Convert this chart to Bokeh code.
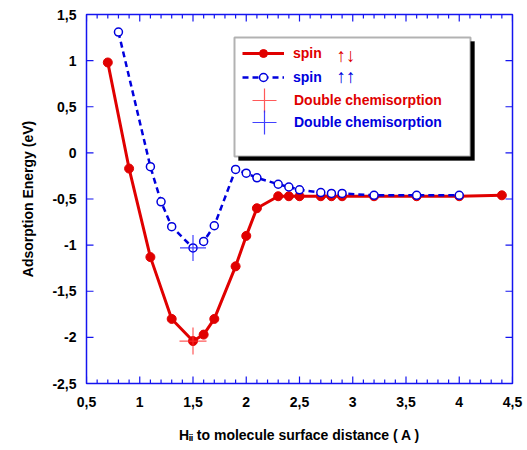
import math
from bokeh.plotting import figure
from bokeh.models import (CustomJSTickFormatter, FixedTicker, Legend,
                          LegendItem, Label, Range1d, BoxAnnotation)
from bokeh.embed import file_html
from bokeh.resources import INLINE

# ---------------- data ----------------
red_x = [0.7, 0.9, 1.1, 1.3, 1.5, 1.6, 1.7, 1.9, 2.0, 2.1, 2.3, 2.4, 2.5, 2.7, 2.8, 2.9, 3.2, 3.6, 4.0, 4.4]
red_y = [0.98, -0.17, -1.13, -1.80, -2.04, -1.97, -1.80, -1.23, -0.90, -0.60, -0.47, -0.47, -0.47,
         -0.47, -0.47, -0.47, -0.47, -0.47, -0.47, -0.46]
blue_x = [0.8, 1.1, 1.2, 1.3, 1.5, 1.6, 1.7, 1.9, 2.0, 2.1, 2.3, 2.4, 2.5, 2.7, 2.8, 2.9, 3.2, 3.6, 4.0]
blue_y = [1.31, -0.15, -0.53, -0.80, -1.03, -0.96, -0.79, -0.18, -0.22, -0.27, -0.34, -0.37, -0.40,
          -0.43, -0.44, -0.44, -0.46, -0.46, -0.46]
cross_x = [1.5]
red_cross_y = [-2.04]
blue_cross_y = [-1.03]

x_lo, x_hi = 0.5, 4.5
y_lo, y_hi = -2.5, 1.5
x_ticks = [0.5, 1.0, 1.5, 2.0, 2.5, 3.0, 3.5, 4.0, 4.5]
x_minor = [round(0.5 + 0.1 * i, 1) for i in range(41)]
y_ticks = [-2.5, -2.0, -1.5, -1.0, -0.5, 0.0, 0.5, 1.0, 1.5]

labels = ["spin", "spin", "Double chemisorption", "Double chemisorption"]
spin_arrows = ["↑↓", "↑↑"]
x_title = "Hᵢᵢ to molecule surface distance ( A )"
y_title = "Adsorption Energy (eV)"

# ---------------- style ----------------
RED = "#e00000"
BLUE = "#0000dd"
AX = "#1414f0"
FONT = "Liberation Sans"

W, H = 527, 450
FL, FR, FT, FB = 86, 512, 14, 383   # frame edges in px

p = figure(width=W, height=H, output_backend="svg", toolbar_location=None,
           x_range=Range1d(x_lo, x_hi), y_range=Range1d(y_lo, y_hi),
           min_border_left=FL, min_border_right=W - FR,
           min_border_top=FT, min_border_bottom=H - FB)
p.outline_line_color = AX
p.outline_line_width = 1.5
p.xgrid.visible = False
p.ygrid.visible = False

fmt = CustomJSTickFormatter(code="return String(Math.round(tick*10)/10).replace('.', ',');")

for ax, ticks in ((p.xaxis[0], x_ticks), (p.yaxis[0], y_ticks)):
    ax.ticker = FixedTicker(ticks=ticks, minor_ticks=[])
    ax.formatter = fmt
    ax.axis_line_color = None
    ax.major_tick_line_color = None
    ax.minor_tick_line_color = None
    ax.major_tick_in = 0
    ax.major_tick_out = 0
    ax.minor_tick_in = 0
    ax.minor_tick_out = 0
    ax.major_label_text_font = FONT
    ax.major_label_text_font_style = "bold"
    ax.major_label_text_font_size = "14px"
    ax.major_label_text_color = "black"
    ax.axis_label_text_font = FONT
    ax.axis_label_text_font_style = "bold"
    ax.axis_label_text_font_size = "14px"
    ax.axis_label_text_color = "black"

xb = p.xaxis[0]
xb.axis_label = x_title
xb.major_label_standoff = 13
xb.axis_label_standoff = 17
yl = p.yaxis[0]
yl.axis_label = y_title
yl.major_label_standoff = 10
yl.axis_label_standoff = 13


def dx(px):
    return x_lo + (px - FL) * (x_hi - x_lo) / (FR - FL)


def dy(py):
    return y_hi - (py - FT) * (y_hi - y_lo) / (FB - FT)


# ---------------- data marks ----------------
r_line = p.line(red_x, red_y, line_color=RED, line_width=3)
r_pts = p.scatter(red_x, red_y, marker="circle", size=9, fill_color=RED, line_color=RED)
b_line = p.line(blue_x, blue_y, line_color=BLUE, line_width=2.5, line_dash="6 4")
b_pts = p.scatter(blue_x, blue_y, marker="circle", size=8, fill_color="white",
                  line_color=BLUE, line_width=1.5)
r_cross = p.scatter(cross_x, red_cross_y, marker="cross", size=27, line_color="#ff3030",
                    line_alpha=0.8, line_width=1.2)
b_cross = p.scatter(cross_x, blue_cross_y, marker="cross", size=26, line_color="#2020ff",
                    line_alpha=0.85, line_width=1.2)

# ---------------- inward ticks: short dash markers centred just inside each edge ----------------
ux = (x_hi - x_lo) / (FR - FL)   # data units per px
uy = (y_hi - y_lo) / (FB - FT)
MAJ, MIN = 7, 4                  # tick lengths, px
x_minor_only = [t for t in x_minor if t not in x_ticks]
for edge, sgn in ((y_lo, 1), (y_hi, -1)):
    p.scatter(x_ticks, [edge + sgn * (MAJ / 2) * uy] * len(x_ticks), marker="dash",
              angle=math.pi / 2, size=MAJ, line_color=AX, line_width=1.2)
    p.scatter(x_minor_only, [edge + sgn * (MIN / 2) * uy] * len(x_minor_only), marker="dash",
              angle=math.pi / 2, size=MIN, line_color=AX, line_width=1.2)
for edge, sgn in ((x_lo, 1), (x_hi, -1)):
    p.scatter([edge + sgn * (MAJ / 2) * ux] * len(y_ticks), y_ticks, marker="dash",
              size=MAJ, line_color=AX, line_width=1.2)

# ---------------- legend box with shadow ----------------
p.add_layout(BoxAnnotation(left=dx(238), right=dx(474), top=dy(41), bottom=dy(160),
                           fill_color="black", fill_alpha=1, line_color="black", line_width=1,
                           level="annotation"))
p.add_layout(BoxAnnotation(left=dx(234), right=dx(470), top=dy(37), bottom=dy(156),
                           fill_color="white", fill_alpha=1, line_color="black", line_width=2,
                           level="annotation"))


def row_legend(label, renderers, color, center_y, glyph_w, glyph_h, glyph_left, standoff):
    lg = Legend(items=[LegendItem(label=label, renderers=renderers)],
                location=(glyph_left - FL, FB - (center_y + glyph_h / 2)),
                padding=0, margin=0, spacing=0,
                glyph_width=glyph_w, glyph_height=glyph_h, label_height=glyph_h,
                label_standoff=standoff,
                background_fill_alpha=0, border_line_color=None,
                label_text_font=FONT, label_text_font_style="bold",
                label_text_font_size="14px", label_text_color=color)
    p.add_layout(lg, "center")


row_legend(labels[0], [r_line, r_pts], RED, 53, 42, 20, 242, 9)
row_legend(labels[1], [b_line, b_pts], BLUE, 77, 42, 20, 242, 9)
row_legend(labels[2], [r_cross], RED, 100, 60, 60, 234, 0)
row_legend(labels[3], [b_cross], BLUE, 122, 60, 60, 234, 0)

for txt, col, cy in ((spin_arrows[0], RED, 55), (spin_arrows[1], BLUE, 76)):
    p.add_layout(Label(x=dx(336), y=dy(cy), text=txt, text_font=FONT, text_font_style="bold",
                       text_font_size="19px", text_align="left", text_baseline="middle",
                       text_color=col))

open("out.html", "w").write(file_html(p, INLINE))
